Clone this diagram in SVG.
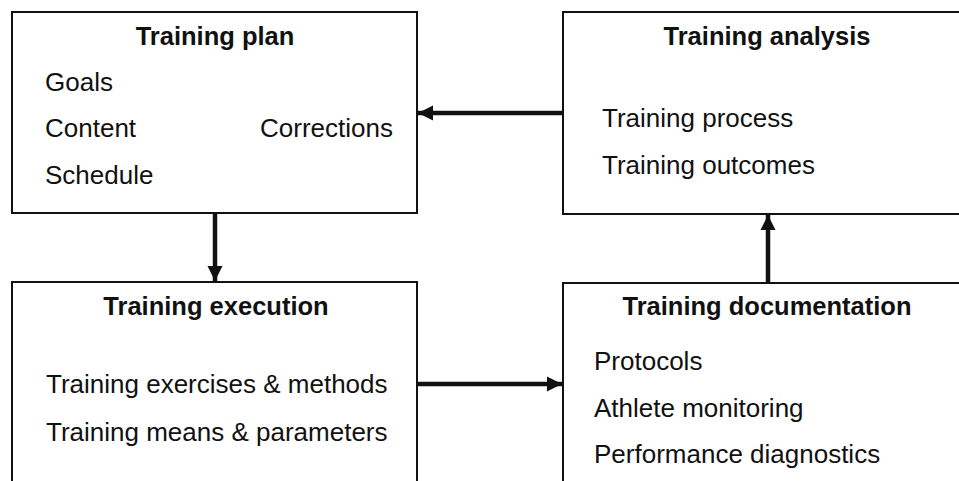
<svg xmlns="http://www.w3.org/2000/svg" width="959" height="481" viewBox="0 0 959 481">
  <style>
    .box { fill: #ffffff; stroke: #111111; stroke-width: 2; }
    .title { font-family: "Liberation Sans", Arial, sans-serif; font-size: 25.5px; font-weight: bold; fill: #111111; text-anchor: middle; }
    .item { font-family: "Liberation Sans", Arial, sans-serif; font-size: 26px; fill: #111111; }
    .link { stroke: #111111; stroke-width: 4.5; fill: none; marker-end: url(#head); }
  </style>
  <defs>
    <marker id="head" viewBox="0 0 10 10" refX="10" refY="5" markerWidth="3.4" markerHeight="3.4" orient="auto" markerUnits="strokeWidth">
      <path d="M0,0 L10,5 L0,10 Z" fill="#111111"/>
    </marker>
  </defs>
  <rect width="959" height="481" fill="#ffffff"/>

  <g id="plan">
    <rect class="box" x="12" y="12" width="405" height="201"/>
    <text class="title" x="215" y="45">Training plan</text>
    <text class="item" x="45" y="91">Goals</text>
    <text class="item" x="45" y="137">Content</text>
    <text class="item" x="260" y="137">Corrections</text>
    <text class="item" x="45" y="184">Schedule</text>
  </g>

  <g id="analysis">
    <rect class="box" x="563" y="12" width="410" height="202"/>
    <text class="title" x="767" y="45">Training analysis</text>
    <text class="item" x="602" y="127">Training process</text>
    <text class="item" x="602" y="174">Training outcomes</text>
  </g>

  <g id="execution">
    <rect class="box" x="12" y="282" width="405" height="220"/>
    <text class="title" x="216" y="315">Training execution</text>
    <text class="item" x="46" y="393">Training exercises &amp; methods</text>
    <text class="item" x="46" y="441">Training means &amp; parameters</text>
  </g>

  <g id="documentation">
    <rect class="box" x="563" y="283" width="410" height="220"/>
    <text class="title" x="767" y="315">Training documentation</text>
    <text class="item" x="594" y="370">Protocols</text>
    <text class="item" x="594" y="417">Athlete monitoring</text>
    <text class="item" x="594" y="463">Performance diagnostics</text>
  </g>

  <g id="connectors">
    <line class="link" x1="563" y1="113" x2="418" y2="113"/>
    <line class="link" x1="215" y1="213" x2="215" y2="281"/>
    <line class="link" x1="417" y1="384" x2="562" y2="384"/>
    <line class="link" x1="768" y1="283" x2="768" y2="215"/>
  </g>
</svg>
